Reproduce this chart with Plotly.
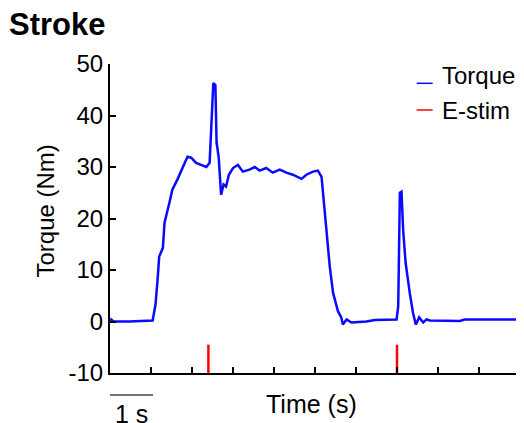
import plotly.graph_objects as go

# Torque trace (time in s, torque in Nm)
time_s = [0.00, 0.03, 0.08, 0.47, 1.04, 1.11, 1.16, 1.20, 1.29, 1.33, 1.45, 1.52, 1.64, 1.77,
          1.89, 1.98, 2.10, 2.22, 2.35, 2.43, 2.47, 2.52, 2.57, 2.60, 2.65, 2.71, 2.77, 2.83,
          2.90, 3.00, 3.12, 3.24, 3.40, 3.53, 3.65, 3.81, 3.97, 4.14, 4.30, 4.46, 4.67, 4.79,
          4.95, 5.07, 5.16, 5.21, 5.28, 5.36, 5.44, 5.56, 5.64, 5.68, 5.77, 5.89, 6.25, 6.46,
          6.99, 7.03, 7.07, 7.11, 7.15, 7.21, 7.31, 7.39, 7.46, 7.54, 7.64, 7.72, 7.80, 8.53,
          8.65, 10.0]
torque_nm = [0.2, 0.4, 0.0, 0.0, 0.2, 3.3, 8.1, 12.6, 14.3, 19.2, 23.1, 25.6, 27.5, 30.0,
             32.0, 31.8, 30.8, 30.4, 30.0, 30.8, 37.8, 46.3, 45.9, 34.7, 32.0, 24.6, 26.6, 26.2,
             28.5, 29.8, 30.4, 29.1, 29.5, 30.0, 29.3, 29.8, 28.9, 29.5, 28.9, 28.5, 27.7, 28.5,
             29.1, 29.3, 28.1, 23.6, 17.2, 10.7, 5.6, 2.0, 0.8, -0.6, 0.4, -0.2, 0.0, 0.3,
             0.4, 3.0, 25.0, 25.2, 17.8, 11.4, 5.6, 1.7, -0.6, 0.8, -0.2, 0.4, 0.2, 0.1,
             0.4, 0.4]

# E-stim pulses
estim_times = [2.4, 7.0]
estim_low = -10
estim_high = -4.5

y_ticks = [-10, 0, 10, 20, 30, 40, 50]
y_tick_labels = ["-10", "0", "10", "20", "30", "40", "50"]

FONT = "Liberation Sans, Arial, sans-serif"
BLUE = "#0a0aff"
RED = "#ff0000"

ex, ey = [], []
for t in estim_times:
    ex += [t, t, None]
    ey += [estim_low, estim_high, None]

fig = go.Figure()
fig.add_trace(go.Scatter(x=time_s, y=torque_nm, mode="lines", name="Torque",
                         line=dict(color=BLUE, width=2.5), showlegend=False))
fig.add_trace(go.Scatter(x=ex, y=ey, mode="lines", name="E-stim",
                         line=dict(color=RED, width=2.5), showlegend=False))

def txt(text, x, y, size=24, **kw):
    fig.add_annotation(text=text, xref="paper", yref="paper", x=x, y=y, showarrow=False,
                       font=dict(family=FONT, size=size, color="black"), **kw)

# manual legend with short lines
leg = [("Torque", BLUE, 0.9375, 0.9617), ("E-stim", RED, 0.8511, 0.8502)]
for name, col, ly, ty in leg:
    fig.add_shape(type="line", xref="paper", yref="paper", x0=0.748, x1=0.787, y0=ly, y1=ly,
                  line=dict(color=col, width=1.5))
    txt(name, 0.805, ty, xanchor="left", yanchor="middle")

# title and axis titles
txt("<b>Stroke</b>", -0.252, 1.1294, size=31, xanchor="left", yanchor="middle")
txt("Torque (Nm)", -0.1585, 0.5227, textangle=-90, xanchor="center", yanchor="middle")
txt("Time (s)", 0.4915, -0.1003, size=25, xanchor="center", yanchor="middle")

# scale bar (1 s)
fig.add_shape(type="line", xref="x", yref="paper", x0=-0.03, x1=1.05, y0=-0.071, y1=-0.071,
              line=dict(color="#444", width=1.5))
txt("1 s", 0.0525, -0.1327, size=25, xanchor="center", yanchor="middle")

# page body adds an 8 px offset, so the figure is 8 px smaller than the window
fig.update_layout(
    width=516, height=415,
    margin=dict(l=102, r=4, t=56, b=50),
    paper_bgcolor="white", plot_bgcolor="white",
    font=dict(family=FONT, size=24, color="black"),
    xaxis=dict(range=[0, 10], dtick=1, tick0=0, showticklabels=False, ticks="inside", ticklen=6,
               tickwidth=2, tickcolor="black", showline=True, linecolor="black", linewidth=2,
               showgrid=False, zeroline=False, automargin=False),
    yaxis=dict(range=[-10, 50], tickvals=y_ticks, ticktext=y_tick_labels, ticks="inside",
               ticklen=6, tickwidth=2, tickcolor="black", showline=True, linecolor="black",
               linewidth=2, showgrid=False, zeroline=False, automargin=False,
               tickfont=dict(family=FONT, size=24)),
)

fig.write_html("out.html")
